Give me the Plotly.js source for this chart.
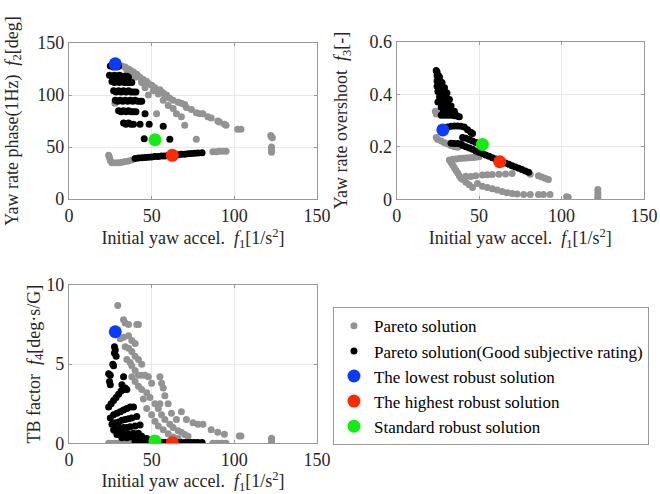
<!DOCTYPE html>
<html>
<head>
<meta charset="utf-8">
<script src="https://cdn.plot.ly/plotly-3.0.1.min.js"></script>
<style>html,body{margin:0;padding:0;background:#fff;}#chart{width:660px;height:494px;}</style>
</head>
<body>
<div id="chart"></div>
<script>
// ---------- data ----------
const seriesNames = ["Pareto solution", "Pareto solution(Good subjective rating)",
  "The lowest robust solution", "The highest robust solution", "Standard robust solution"];

// Plot 1: f1 vs f2
const p1GrayX = [30,32,34,36,37,39,41,42,43,45,47,48,50,52,55,56,57,59,61,63,66,68,70,71,74,77,79,81,84,86,90,91,94,95,102,104,122,122.5,123,
  35,38,40,44,46,51,54,58,
  44,46,48,53,57,60,63,65,68,70,77,27.8,
  24,24.5,25,26,28,30,32,34,36,38, 87,89,91,93,95, 122.5,122.5,122.5];
const p1GrayY = [129,128,127,125,124,122,120,118,117,115,113,111,109.5,107,105,103,102,100,97,95,93,92,91,88,86,83,82,82,79,78,75,74,72,71,67,67,61,60,59,
  124,121,117,112,110,104,101,98,
  113,107,100,82,95,90,87,82,79,71,57.5,92,
  42,40,37,35,35,35,35.5,36,36.5,37.5, 45.5,45.5,46,46,46, 50,47,45];
const p1BlackX = [25,26,27,28,29,30,
  24.5,26,27.5,29,30.5,32,33.5,35,36,
  26,27.5,29,30.5,32,33.5,35,36.5,38,
  27,28.5,30,31.5,33,34.5,36,37.5,39,40.5,
  28,29.5,31,32.5,34,35.5,37,38.5,40,41.5,43,44,
  30,31.5,33,34.5,36,37.5,39,40.5,46,
  33,34.5,36,37.5,39,43,48.5,57,
  45.5,61,
  40,42,44,46,48,50,52,54,56,58,60,62,64,66,68,70,72,74,76,78,80.5];
const p1BlackY = [128,129,127,128,127,128,
  119,118,119,118,119,118,118,118,117,
  113,112,113,112,113,112,112,112,112,
  104,103,104,103,104,103,104,103,103,103,
  95,94,95,94,95,94,95,94,95,94,94,94,
  85,84,85,84,85,84,84,84,82,
  73,72,73,72,72,72,72,70,
  58,57.5,
  39,39.5,39.7,40,40.3,40.5,40.8,41,41.3,41.5,41.8,42,42.3,42.6,43,43.2,43.5,43.8,44,44.2,44.5];

// Plot 2: f1 vs f3
const p2GrayX = [23.5,24, 24,25,27,29,31,33,35,37,
  32,34,36,38,40,42,44,46,48,50,
  33,34,35,36,37,38,39,40,42,44,46,
  42,45,48,52,55,58,62,66,70,
  49,52,55,58,61,64,67,70,73,77,81,86,89,93,103,104,122,122,122,122,
  81,86,88,90,92];
const p2GrayY = [0.335,0.325, 0.235,0.228,0.222,0.215,0.21,0.205,0.2,0.198,
  0.15,0.152,0.153,0.155,0.156,0.157,0.158,0.159,0.16,0.162,
  0.14,0.13,0.12,0.11,0.1,0.09,0.08,0.075,0.065,0.055,0.045,
  0.088,0.087,0.09,0.092,0.093,0.094,0.095,0.096,0.098,
  0.06,0.05,0.045,0.04,0.035,0.03,0.025,0.022,0.02,0.018,0.018,0.018,0.018,0.018,0.01,0.008,0.037,0.025,0.012,0.004,
  0.095,0.09,0.085,0.08,0.075];
const p2BlackX = [24,24.5,
  24.5,25.5,26,
  24.5,26,27.5,
  24.5,26,27.5,29,
  25,27,29,30.5,
  26,28,30,32,
  25,27,29,31,33,
  27,29,31,33,35,
  28,30,32,34,36,
  27,29,31,33,35,37,38,
  29,31,33,35,37,39,41,43,45,46,
  33,35,37,39,40,42,44,46,48,50,52,54,56,58,60,62,64,66,68,70,72,74,76,78,80,
  40,42,44,46,48];
const p2BlackY = [0.49,0.485,
  0.47,0.47,0.465,
  0.45,0.45,0.445,
  0.43,0.43,0.43,0.425,
  0.41,0.41,0.41,0.405,
  0.39,0.39,0.385,0.38,
  0.37,0.37,0.365,0.36,0.355,
  0.35,0.35,0.345,0.34,0.335,
  0.33,0.33,0.33,0.325,0.32,
  0.32,0.32,0.32,0.32,0.318,0.316,0.314,
  0.27,0.275,0.278,0.279,0.279,0.278,0.275,0.265,0.255,0.25,
  0.213,0.212,0.212,0.21,0.205,0.2,0.195,0.19,0.184,0.179,0.174,0.169,0.164,0.158,0.153,0.148,0.143,0.138,0.133,0.128,0.123,0.118,0.113,0.108,0.103,
  0.235,0.232,0.228,0.222,0.216];

// Plot 3: f1 vs f4
const p3GrayX = [29.5, 33,34,36,41,42, 31,33,36,38,40, 34,36,38,40,42,44, 35,37,38,40,42,44,46, 38,40,42,
  44,47,49,52,54,56,58,61,63,66,68,70,72,
  48,50,55,56,57,58,55,60,62,65,68,71,75,78,81,86,90,94,103,104,122.5,122.5,122.5,
  45,47,50,52,54,57,60,63,66, 27.8,
  24,26,28,30,32,34,36,38,40,42,44,87,89,91,93,95];
const p3GrayY = [8.7, 7.8,7.6,7.5,7.5,7.5, 6.6,6.7,6.8,6.5,6.3, 6.1,6.0,5.8,5.5,5.3,5.0, 5.3,5.1,4.9,4.6,4.3,4.3,4.3, 4.2,3.9,3.6,
  3.4,3.2,2.9,2.5,2.2,1.8,1.5,1.2,1.0,0.8,0.7,0.55,0.45,
  4.2,3.8,4.2,3.8,3.5,3.0,2.5,2.5,1.9,1.5,2.0,1.5,1.3,1.2,1.2,0.85,0.7,0.57,0.46,0.46,0.32,0.15,0.05,
  2.8,2.2,1.8,1.4,1.1,0.85,0.6,0.4,0.3, 0.74,
  0,0,0,0,0,0,0,0,0,0,0,0,0,0,0,0];
const p3BlackX = [27.5,28,27.5,28.5,26.5,27,24,25,24.5,25,33,32,34,35,
  24,25.5,27,28.5,30,31.5,33,
  25,27,29,31,33,35,37,39,
  26,28,30,32,34,36,38,41,
  27,29,31,33,35,37,40,43,
  29,31,33,36,39,42,
  32,35,38,41,44,47,
  40,42,44,46,48,50,54,56,58,60,64,66,68,70,72,74,76,78,80.5];
const p3BlackY = [6.1,5.9,5.7,5.5,5.0,4.9,4.4,4.3,3.9,3.7,4.2,3.7,3.5,3.4,
  2.3,2.5,2.7,2.9,3.1,3.3,3.4,
  1.6,1.8,1.9,2.0,2.1,2.2,2.3,2.3,
  1.2,1.3,1.35,1.45,1.5,1.55,1.6,1.7,
  0.85,0.9,0.95,1.0,1.0,1.05,1.1,1.15,
  0.55,0.58,0.6,0.6,0.63,0.63,
  0.35,0.35,0.4,0.4,0.45,0.3,
  0.1,0.12,0.08,0.1,0.08,0.1,0.08,0.06,0.05,0.05,0.05,0.05,0.05,0.05,0.05,0.05,0.05,0.05,0.05];

// Robust solutions: [lowest, highest, standard]
const robustF1 = [28, 62.5, 52];
const robustF2 = [130, 42, 57];
const robustF3 = [0.264, 0.143, 0.209];
const robustF4 = [7.05, 0.04, 0.15];

const xTicks = [0, 50, 100, 150];
const f2Ticks = [0, 50, 100, 150];
const f3Ticks = [0, 0.2, 0.4, 0.6];
const f4Ticks = [0, 5, 10];

// ---------- styling ----------
const FONT = "Liberation Serif";
const grayC = "#939393", blackC = "#000000";
const robustColors = ["#0a3cff", "#ff2a00", "#11ee11"];
const NB = "\u00a0";

function dots(x, y, xa, ya, color, name, show) {
  return {type: "scatter", mode: "markers", x: x, y: y, xaxis: xa, yaxis: ya,
    name: name, legendgroup: name, showlegend: show,
    marker: {color: color, size: 7, line: {width: 0}}, hoverinfo: "skip"};
}
function big(x, y, xa, ya, color, name, show) {
  return {type: "scatter", mode: "markers", x: [x], y: [y], xaxis: xa, yaxis: ya,
    name: name, legendgroup: name, showlegend: show,
    marker: {color: color, size: 13, line: {width: 0}}, hoverinfo: "skip"};
}

const traces = [];
const sets = [
  {xa: "x", ya: "y", gx: p1GrayX, gy: p1GrayY, bx: p1BlackX, by: p1BlackY, r: robustF2},
  {xa: "x2", ya: "y2", gx: p2GrayX, gy: p2GrayY, bx: p2BlackX, by: p2BlackY, r: robustF3},
  {xa: "x3", ya: "y3", gx: p3GrayX, gy: p3GrayY, bx: p3BlackX, by: p3BlackY, r: robustF4}
];
sets.forEach((s, i) => {
  const show = i === 0;
  traces.push(dots(s.gx, s.gy, s.xa, s.ya, grayC, seriesNames[0], show));
  traces.push(dots(s.bx, s.by, s.xa, s.ya, blackC, seriesNames[1], show));
  for (let k = 0; k < 3; k++) {
    traces.push(big(robustF1[k], s.r[k], s.xa, s.ya, robustColors[k], seriesNames[k + 2], show));
  }
});

function xAxis(domain, anchor) {
  return {domain: domain, anchor: anchor, range: [0, 150], tickvals: xTicks,
    showline: true, mirror: "ticks", linecolor: "#999", linewidth: 1,
    ticks: "inside", ticklen: 3, tickcolor: "#999",
    showgrid: true, gridcolor: "#e8e8e8", zeroline: false,
    tickfont: {family: FONT, size: 18, color: "#262626"},
    title: {text: "Initial yaw accel." + NB + NB + "<i>f</i><sub>1</sub>[1/s<sup>2</sup>]",
      font: {family: FONT, size: 18, color: "#262626"}, standoff: 6}};
}
function yAxis(domain, anchor, range, ticks, title, standoff) {
  return {domain: domain, anchor: anchor, range: range, tickvals: ticks,
    showline: true, mirror: "ticks", linecolor: "#999", linewidth: 1,
    ticks: "inside", ticklen: 3, tickcolor: "#999",
    showgrid: true, gridcolor: "#e8e8e8", zeroline: false,
    tickfont: {family: FONT, size: 18, color: "#262626"},
    title: {text: title, font: {family: FONT, size: 18, color: "#262626"}, standoff: standoff}};
}

const layout = {
  width: 660, height: 494,
  margin: {l: 0, r: 0, t: 0, b: 0},
  paper_bgcolor: "#fff", plot_bgcolor: "#fff",
  font: {family: FONT, color: "#262626"},
  xaxis: xAxis([0.1045, 0.4803], "y"),
  yaxis: yAxis([0.597, 0.913], "x", [0, 150], f2Ticks,
    "Yaw rate phase(1Hz)" + NB + NB + "<i>f</i><sub>2</sub>[deg]", 14),
  xaxis2: xAxis([0.601, 0.9758], "y2"),
  yaxis2: yAxis([0.5966, 0.9156], "x2", [0, 0.6], f3Ticks,
    "Yaw rate overshoot" + NB + NB + "<i>f</i><sub>3</sub>[-]", 17),
  xaxis3: xAxis([0.1045, 0.4803], "y3"),
  yaxis3: yAxis([0.1026, 0.423], "x3", [0, 10], f4Ticks,
    "TB factor" + NB + NB + "<i>f</i><sub>4</sub>[deg·s/G]", 1),
  legend: {x: 0.5045, y: 0.378, xanchor: "left", yanchor: "top",
    bordercolor: "#999", borderwidth: 1, bgcolor: "#fff",
    font: {family: FONT, size: 17, color: "#000"}, tracegroupgap: 0,
    itemsizing: "trace", itemwidth: 30},
  showlegend: true
};

Plotly.newPlot("chart", traces, layout, {staticPlot: true, displayModeBar: false});
</script>
</body>
</html>
